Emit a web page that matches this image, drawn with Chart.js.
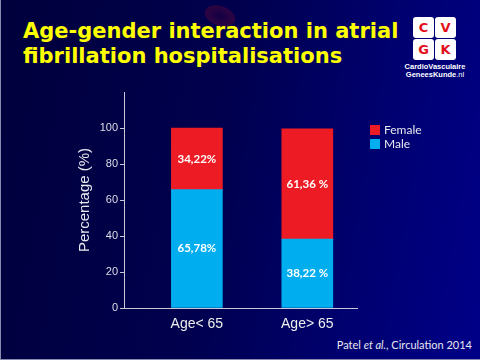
<!DOCTYPE html>
<html>
<head>
<meta charset="utf-8">
<script src="https://cdn.jsdelivr.net/npm/chart.js@4.4.1/dist/chart.umd.min.js"></script>
<style>
  html, body { margin: 0; padding: 0; }
  body { width: 480px; height: 360px; overflow: hidden; position: relative;
    background: linear-gradient(100deg, #00003c 0%, #00004e 45%, #000070 75%, #000088 100%); }
  #frame { position: absolute; left: 0; top: 0; width: 479px; height: 359px;
    border-left: 1px solid #8a8ab0; border-bottom: 1px solid #8a8ab0; box-sizing: content-box; pointer-events: none; }
  #cell { position: absolute; left: 204px; top: 6px; width: 32px; height: 20px; border-radius: 50%;
    background: radial-gradient(ellipse at center, rgba(60,0,50,0.3) 0%, rgba(110,10,50,0.4) 60%, rgba(0,0,60,0) 100%);
    transform: rotate(20deg); }
  #title { position: absolute; left: 23px; top: 19px; color: #ffff00;
    font-family: "DejaVu Sans", sans-serif; font-weight: bold; font-size: 21px; line-height: 25px; white-space: nowrap; }
  .sq { position: absolute; width: 21px; height: 21px; background: #fff; border-radius: 3px;
    color: #e3101c; font-family: "DejaVu Sans", sans-serif; font-weight: bold; font-size: 13px;
    line-height: 21px; text-align: center; }
  #logotext { position: absolute; left: 403px; top: 63px; width: 64px; text-align: center; color: #fff;
    font-family: "Liberation Sans Narrow", "Liberation Sans", sans-serif; font-weight: bold; font-size: 7.5px; line-height: 8px; }
  #cite { position: absolute; right: 8px; top: 338px; color: #e8e8f0; font-family: Lato, sans-serif; font-size: 11px; white-space: nowrap; }
  canvas { position: absolute; left: 0; top: 0; }
</style>
</head>
<body>
<div id="cell"></div>
<div id="title">Age-gender interaction in atrial<br>fibrillation hospitalisations</div>
<div class="sq" style="left:413px;top:17px">C</div>
<div class="sq" style="left:435px;top:17px">V</div>
<div class="sq" style="left:413px;top:39px">G</div>
<div class="sq" style="left:435px;top:39px">K</div>
<div id="logotext">CardioVasculaire<br>GeneesKunde<span style="font-weight:normal">.nl</span></div>
<div id="cite">Patel <i>et al.</i>, Circulation 2014</div>
<canvas id="c" width="480" height="360"></canvas>
<div id="frame"></div>
<script>
const categories = ['Age< 65', 'Age> 65'];
const maleValues = [65.78, 38.22];
const femaleValues = [34.22, 61.36];
const maleLabels = ['65,78%', '38,22 %'];
const femaleLabels = ['34,22%', '61,36 %'];
const yTicks = [0, 20, 40, 60, 80, 100];
const seriesNames = ['Male', 'Female'];

const maleColor = '#00aeef';
const femaleColor = '#ed1c24';

const toPoints = vals => vals.map((v, i) => ({ x: i + 1, y: v }));

const segLabels = {
  id: 'segLabels',
  afterDatasetsDraw(chart) {
    const ctx = chart.ctx;
    const texts = [maleLabels, femaleLabels];
    ctx.save();
    ctx.fillStyle = '#ffffff';
    ctx.font = 'bold 11.5px Lato, sans-serif';
    ctx.textAlign = 'center';
    ctx.textBaseline = 'middle';
    chart.data.datasets.forEach((ds, di) => {
      const meta = chart.getDatasetMeta(di);
      meta.data.forEach((el, i) => {
        const p = el.getProps(['x', 'y', 'base'], true);
        ctx.fillText(texts[di][i], p.x, (p.y + p.base) / 2);
      });
    });
    ctx.restore();
  }
};

const customLegend = {
  id: 'customLegend',
  afterDraw(chart) {
    const ctx = chart.ctx;
    const items = [
      { text: seriesNames[1], color: femaleColor },
      { text: seriesNames[0], color: maleColor }
    ];
    ctx.save();
    ctx.font = '12px Lato, sans-serif';
    ctx.textBaseline = 'middle';
    ctx.textAlign = 'left';
    items.forEach((it, k) => {
      const y = 130 + k * 14;
      ctx.fillStyle = it.color;
      ctx.fillRect(370, y - 5, 10, 10);
      ctx.fillStyle = '#e8e8f0';
      ctx.fillText(it.text, 384, y);
    });
    ctx.restore();
  }
};

new Chart(document.getElementById('c'), {
  type: 'bar',
  data: {
    datasets: [
      { label: seriesNames[0], data: toPoints(maleValues), backgroundColor: maleColor, borderWidth: 0, barThickness: 51 },
      { label: seriesNames[1], data: toPoints(femaleValues), backgroundColor: femaleColor, borderWidth: 0, barThickness: 51 }
    ]
  },
  options: {
    responsive: false,
    animation: false,
    layout: { padding: { left: 76, right: 123, top: 92, bottom: 22 } },
    plugins: { legend: { display: false }, tooltip: { enabled: false } },
    scales: {
      x: {
        type: 'linear',
        stacked: true,
        offset: false,
        bounds: 'data',
        min: 0.34,
        max: 2.45,
        afterBuildTicks: s => { s.ticks = categories.map((c, i) => ({ value: i + 1 })); },
        afterFit: s => { s.height = 30; },
        ticks: {
          callback: v => categories[Math.round(v) - 1] || '',
          color: '#eeeeee',
          font: { family: 'Liberation Sans', size: 14 },
          padding: 8,
          maxRotation: 0,
          autoSkip: false
        },
        grid: { display: false, drawTicks: false, offset: false },
        border: { display: true, color: '#c8c8d8', width: 1 }
      },
      y: {
        stacked: true,
        min: 0,
        max: 120,
        afterBuildTicks: s => { s.ticks = yTicks.map(v => ({ value: v })); },
        afterFit: s => { s.width = 48; },
        ticks: {
          color: '#dddde8',
          font: { family: 'Liberation Sans', size: 11 },
          padding: 2
        },
        grid: { drawOnChartArea: false, drawTicks: true, tickLength: 4, color: '#c8c8d8' },
        border: { display: true, color: '#c8c8d8', width: 1 },
        title: {
          display: true,
          text: 'Percentage (%)',
          color: '#e8e8f0',
          font: { family: 'Liberation Sans', size: 15 },
          padding: { top: 0, bottom: 0 }
        }
      }
    }
  },
  plugins: [segLabels, customLegend]
});
</script>
</body>
</html>
